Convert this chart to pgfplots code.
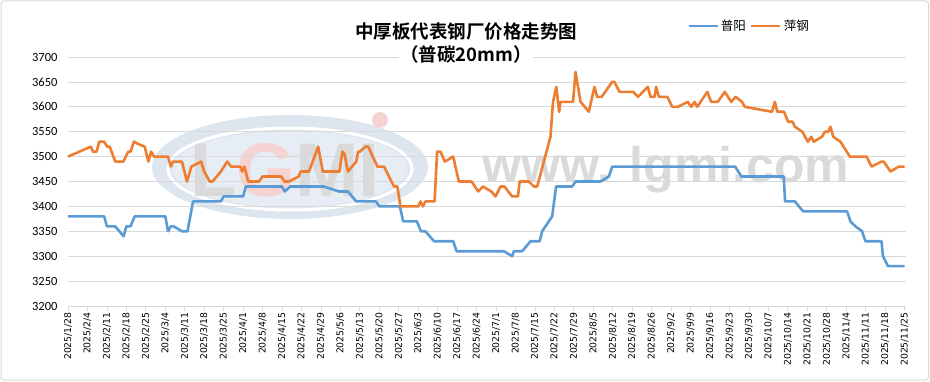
\documentclass[border=0pt]{standalone}
\usepackage{pgfplots}
\pgfplotsset{compat=1.18}
\usepackage{fontspec}
\setmainfont{Carlito}
\newfontfamily\cjk[BoldFont={Noto Sans CJK SC Bold}]{Noto Sans CJK SC}
\newfontfamily\lsans{Liberation Sans}
\newfontfamily\dejavu{DejaVu Sans}
\definecolor{pyblue}{HTML}{5B9BD5}
\definecolor{pgorange}{HTML}{ED7D31}
\definecolor{gridc}{HTML}{D9D9D9}
\definecolor{wmring}{HTML}{DDE5EF}
\definecolor{wmfill}{HTML}{E7EDF5}
\definecolor{wmgray}{HTML}{DADADA}
\definecolor{wmpink}{HTML}{F6D3D3}

\begin{document}
\begin{tikzpicture}[x=1pt,y=1pt]
\useasboundingbox (0,0) rectangle (930,381);
\draw[gridc, line width=1pt, rounded corners=3pt] (1,1) rectangle (928.5,380);
% watermark
\fill[wmring] (290,214) ellipse [x radius=138, y radius=52];
\draw[white, line width=3pt] (290,212) ellipse [x radius=122, y radius=41];
\fill[wmfill] (290,212) ellipse [x radius=118, y radius=38];
\fill[wmpink] (380,261) circle (8);
\node[anchor=base, inner sep=0pt] at (285,185) {\lsans\bfseries\fontsize{76}{76}\selectfont\color{wmgray}L\color{wmpink}G\color{wmgray}MI};
\node[anchor=base, inner sep=0pt] at (666,198) {\lsans\bfseries\fontsize{50}{50}\selectfont\color{wmgray}www. lgmi.com};
\begin{axis}[
  at={(68pt,75pt)}, anchor=south west,
  scale only axis, width=838pt, height=249pt,
  xmin=0, xmax=301.5, ymin=3200, ymax=3700,
  axis x line*=bottom, axis y line*=left,
  x axis line style={draw=gridc, line width=0.8pt, -},
  y axis line style={draw=none},
  ymajorgrids, grid style={gridc, line width=0.8pt},
  ytick={3200,3250,...,3700},
  yticklabels={3200,3250,3300,3350,3400,3450,3500,3550,3600,3650,3700},
  ytick style={draw=none},
  y tick label style={font=\fontsize{12.5}{13}\selectfont, xshift=-2pt},
  xtick={0,7,...,301},
  xticklabels={2025/1/28,2025/2/4,2025/2/11,2025/2/18,2025/2/25,2025/3/4,2025/3/11,2025/3/18,2025/3/25,2025/4/1,2025/4/8,2025/4/15,2025/4/22,2025/4/29,2025/5/6,2025/5/13,2025/5/20,2025/5/27,2025/6/3,2025/6/10,2025/6/17,2025/6/24,2025/7/1,2025/7/8,2025/7/15,2025/7/22,2025/7/29,2025/8/5,2025/8/12,2025/8/19,2025/8/26,2025/9/2,2025/9/9,2025/9/16,2025/9/23,2025/9/30,2025/10/7,2025/10/14,2025/10/21,2025/10/28,2025/11/4,2025/11/11,2025/11/18,2025/11/25},
  x tick label style={rotate=90, anchor=east, font=\dejavu\fontsize{9.3}{10}\selectfont, inner sep=1pt, yshift=0pt},
  tick align=outside, major tick length=5pt,
  xtick style={draw=gridc, line width=0.8pt},
  clip=false,
  legend columns=2,
  legend style={draw=none, fill=none, at={(0.8126,1.1245)}, anchor=center,
    font=\cjk\fontsize{12.5}{13}\selectfont, inner sep=0pt,
    /tikz/every even column/.append style={column sep=2pt}},
  legend image code/.code={\draw[#1, line width=2.8pt] (0pt,0pt) -- (29pt,0pt);},
]
\addplot[pyblue, line width=2.6pt, line join=round] coordinates {
(0,3380) (13,3380) (14,3360) (17,3360) (20,3340) (21,3360) (22.5,3360) (24,3380) (35,3380) (36,3350) (37,3360) (38,3360) (41,3350) (43,3350) (45,3410) (55,3410) (56,3420) (63,3420) (64,3440) (77,3440) (78,3430) (80,3440) (92,3440) (97.5,3430) (100.7,3430) (103.7,3410) (110.8,3410) (112,3400) (119.4,3400) (120.6,3370) (125.5,3370) (127,3350) (128.6,3350) (131.7,3330) (138.6,3330) (139.8,3310) (156.8,3310) (159.8,3300) (160.4,3310) (163.4,3310) (166.4,3330) (169.7,3330) (170.6,3350) (174.2,3380) (175.6,3440) (181.4,3440) (182.6,3450) (191.6,3450) (194.6,3460) (195.8,3480) (240,3480) (242.3,3460) (257.5,3460) (258,3410) (261.5,3410) (264.5,3390) (280.3,3390) (281.5,3370) (283.3,3360) (285.7,3350) (286.9,3330) (292.7,3330) (293.2,3300) (295,3280) (301,3280)
};
\addlegendentry{普阳}
\addplot[pgorange, line width=2.6pt, line join=round] coordinates {
(0,3500) (8.2,3520) (9,3510) (10.3,3510) (11.2,3530) (13,3530) (14.1,3520) (15,3520) (17,3490) (19.9,3490) (21.7,3510) (22.5,3510) (23.7,3530) (25.4,3525) (27.6,3520) (28.9,3490) (29.9,3510) (31,3500) (36,3500) (37,3480) (37.8,3490) (41,3490) (42.8,3450) (44.4,3480) (47.9,3490) (49,3470) (51,3450) (52,3450) (55,3470) (57.3,3490) (58.7,3480) (62,3480) (62.7,3470) (63.5,3480) (64.8,3450) (68.7,3450) (70,3460) (76.7,3460) (77.9,3450) (79.5,3450) (83,3460) (83.7,3470) (86.7,3470) (90,3520) (91.7,3470) (97.7,3470) (98.7,3510) (99.5,3505) (100.7,3470) (103.7,3490) (104.4,3510) (105,3510) (107,3520) (108,3520) (111.3,3480) (113.7,3480) (117.3,3440) (118.5,3440) (119.6,3400) (126,3400) (126.8,3410) (127.7,3400) (128.6,3410) (131.9,3410) (132.8,3510) (134,3510) (135.6,3490) (138.6,3500) (140.6,3450) (145.2,3450) (147.6,3430) (149.3,3440) (152.3,3430) (153.8,3420) (155.6,3440) (157,3440) (159.8,3420) (161.9,3420) (162.5,3450) (165.8,3450) (167.6,3440) (168.8,3440) (173.6,3540) (174.5,3610) (175.7,3640) (176.7,3590) (177.2,3610) (181.7,3610) (182.6,3670) (184.4,3610) (187.4,3590) (189.4,3640) (190.4,3620) (192,3620) (195.8,3650) (196.6,3650) (198.4,3630) (203.3,3630) (205.1,3620) (208.6,3640) (209.6,3620) (211,3620) (211.6,3640) (212.6,3620) (215.6,3620) (217.4,3600) (219.4,3600) (223,3610) (224.2,3600) (225.4,3610) (226.4,3600) (230,3630) (231.4,3610) (233.8,3610) (236.3,3630) (238.6,3610) (240.2,3620) (242.5,3610) (243.5,3600) (253.3,3590) (254.3,3610) (255.2,3590) (257.6,3590) (259.1,3570) (260.7,3570) (261.5,3560) (264.2,3550) (266.2,3530) (267.4,3540) (268.3,3530) (271.3,3540) (272.3,3550) (273.5,3550) (274.3,3560) (275.3,3540) (277.9,3530) (281.3,3500) (287.3,3500) (289.1,3480) (292.7,3490) (293.5,3490) (294.7,3480) (295.9,3470) (298.9,3480) (301,3480)
};
\addlegendentry{萍钢}
\end{axis}
% titles (over the top gridline, as in the reference)
\node[fill=white, inner sep=1pt] at (466,349.5) {\cjk\bfseries\fontsize{18.5}{20}\selectfont 中厚板代表钢厂价格走势图};
\node[fill=white, inner xsep=1pt, inner ysep=0pt] at (466,327) {\cjk\bfseries\fontsize{18.5}{20}\selectfont （普碳20mm）};
\end{tikzpicture}
\end{document}
